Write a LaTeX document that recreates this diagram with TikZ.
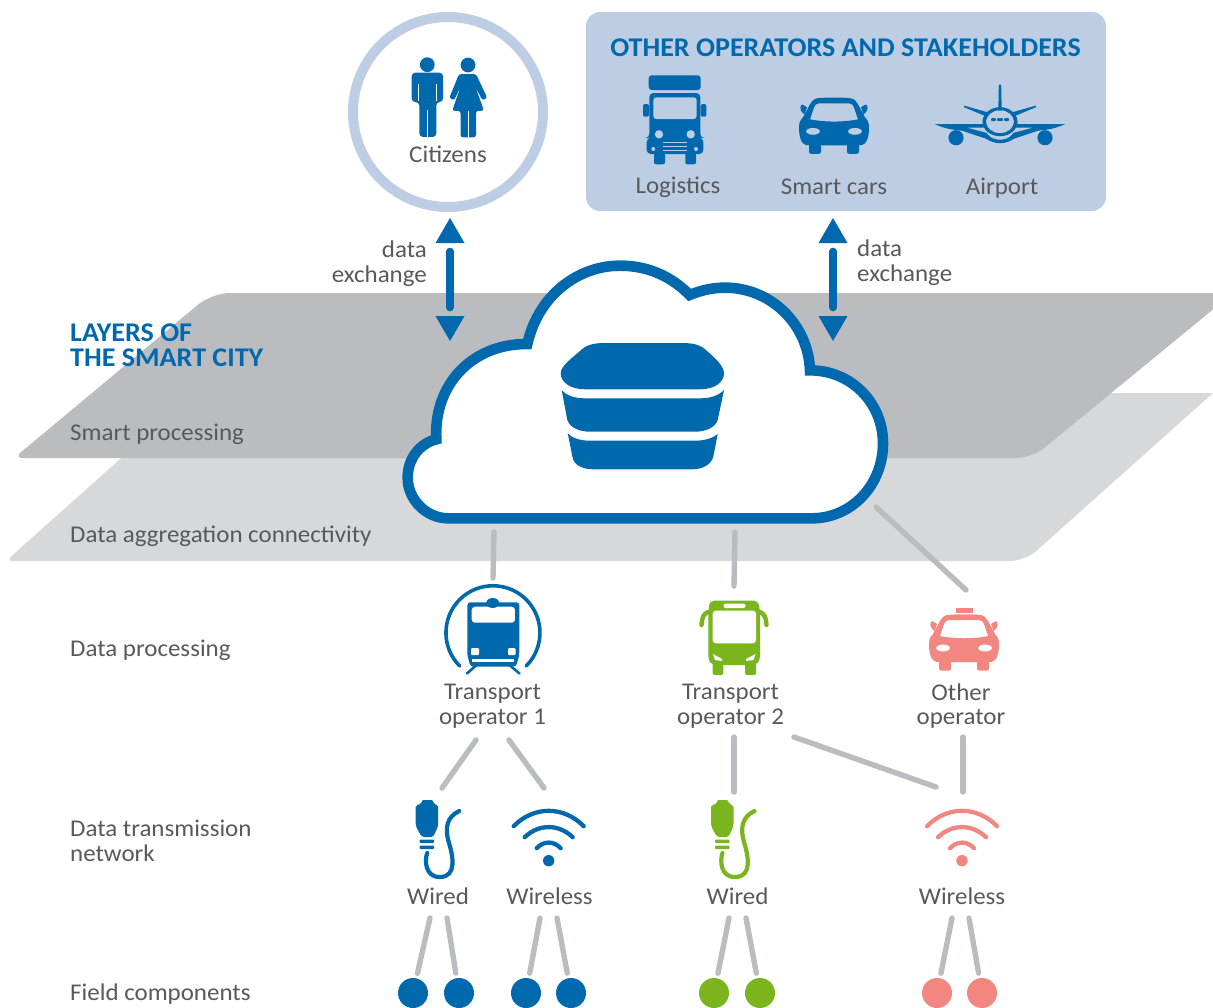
\documentclass[tikz,border=0pt]{standalone}
\usepackage{fontspec}
\setmainfont[FakeStretch=1.04]{Carlito}
\definecolor{iblue}{HTML}{0069AE}
\definecolor{igreen}{HTML}{7AB51D}
\definecolor{isalmon}{HTML}{F28680}
\definecolor{itext}{HTML}{58595B}
\definecolor{ipale}{HTML}{BDCDE4}
\definecolor{ldark}{HTML}{BBBCC0}
\definecolor{llight}{HTML}{D7D8DA}
\tikzset{
  lbl/.style={text=itext,font=\fontsize{24}{24.7}\selectfont,inner sep=0pt,align=center},
  lbls/.style={lbl,anchor=base},
  lbll/.style={lbl,align=left,anchor=base west},
  head/.style={text=iblue,font=\fontsize{27}{25}\selectfont\bfseries,inner sep=0pt},
  link/.style={draw=ldark,line width=5.4pt,line cap=round},
  dotnode/.style={circle,inner sep=0pt,minimum size=30pt},
  exch/.style={draw=iblue,line width=7.6pt,line cap=round,shorten <=33.5pt,shorten >=33.5pt},
  tipfill/.style={fill=iblue},
  pics/caricon/.style={code={
    \fill[#1,even odd rule] (-17,0) .. controls (-8,-1) and (8,-1) .. (17,0)
      .. controls (21,1) and (22,3) .. (24,6) -- (31,19) .. controls (34,22) and (35,25) .. (35,29)
      .. controls (35,36) and (34,42) .. (31,45) .. controls (29,47) and (27,47) .. (25,47) -- (-25,47)
      .. controls (-27,47) and (-29,47) .. (-31,45) .. controls (-34,42) and (-35,36) .. (-35,29)
      .. controls (-35,25) and (-34,22) .. (-31,19) -- (-24,6) .. controls (-22,3) and (-21,1) .. (-17,0) -- cycle
      (-15,5) .. controls (-18,5) and (-19,7) .. (-20,9) -- (-24,21) .. controls (-10,24) and (10,24) .. (24,21) -- (20,9) .. controls (19,7) and (18,5) .. (15,5) -- cycle
      (-21,33) ellipse[x radius=7pt,y radius=3.5pt]
      (21,33) ellipse[x radius=7pt,y radius=3.5pt];
    \fill[#1,rounded corners=2pt] (-25,46) rectangle (-13,55.5) (13,46) rectangle (25,55.5);
    \fill[#1] (-29.5,16) .. controls (-33,14) and (-34.5,10) .. (-33,7) .. controls (-32,5) and (-29,8) .. (-27,9) -- cycle;
    \fill[#1] (29.5,16) .. controls (33,14) and (34.5,10) .. (33,7) .. controls (32,5) and (29,8) .. (27,9) -- cycle;
  }},
  pics/wiredicon/.style={code={
    \fill[#1,rounded corners=2pt] (-5,0) -- (6.5,0) -- (6.5,4) -- (11.5,5) -- (11.5,26) -- (6.5,37) -- (-5,37) -- (-11,26) -- (-11,5) -- (-5,4) -- cycle;
    \fill[#1,rounded corners=1pt] (-7,39.5) rectangle (7.5,43) (-7,45.5) rectangle (7.5,49);
    \draw[#1,line width=4.2pt,line cap=round] (0.5,53) .. controls (-2,60) and (-2,77) .. (13,77) .. controls (31,77) and (26,55) .. (22,42) .. controls (18,28) and (20,17) .. (32.5,11);
  }},
  pics/wifiicon/.style={code={
    \fill[#1] (0,0) circle[radius=5.7pt];
    \draw[#1,line width=4.3pt,line cap=round]
      (-12,-12.5) .. controls (-5,-20) and (5,-20) .. (12,-12.5)
      (-24,-23.5) .. controls (-10,-37) and (10,-37) .. (24,-23.5)
      (-35,-34.5) .. controls (-15,-55) and (15,-55) .. (35,-34.5);
  }}
}
\begin{document}
\begin{tikzpicture}[x=1pt,y=-1pt]
\useasboundingbox (0,0) rectangle (1213,1007);
% layers
\fill[llight] (700,393) -- (1213,393) [rounded corners=15pt] -- (1025,561) [rounded corners=7pt] -- (6,561) [sharp corners] -- (194,393) -- cycle;
\fill[ldark,rounded corners=16pt] (1233,293) -- (1032,458) [rounded corners=9pt] -- (14,458) [rounded corners=18pt] -- (212,293) -- cycle;
% upper frames
\node[circle,draw=ipale,line width=10pt,fill=white,minimum size=190pt,inner sep=0pt] (citcircle) at (448,112) {};
\node[rectangle,rounded corners=14pt,fill=ipale,minimum width=520pt,minimum height=199pt,inner sep=0pt] (others) at (846,111.5) {};
\node[head,anchor=base] (othershead) at (845.5,56) {OTHER OPERATORS AND STAKEHOLDERS};
% man
\fill[iblue] (427.3,64.7) circle[radius=7.4pt] (468,65) circle[radius=7.4pt];
\fill[iblue,rounded corners=3.5pt] (411.7,72.7) -- (443,72.7) -- (443,102) -- (436.3,102) -- (436.3,136.9) -- (419.3,136.9) -- (419.3,102) -- (411.7,102) -- cycle;
\draw[white,line width=0.8pt] (418.7,84) -- (418.7,101) (436.7,84) -- (436.7,101) (427.6,110) -- (427.6,137.5);
% woman
\fill[iblue,rounded corners=2.5pt] (459,74) -- (476,74) -- (487.3,98) -- (482.5,100.5) -- (475.5,87) -- (484,110.8) -- (476,110.8) -- (476,137.3) -- (460.5,137.3) -- (460.5,110.8) -- (452.2,110.8) -- (460.5,87) -- (454,100.5) -- (449.3,98) -- cycle;
\draw[white,line width=0.8pt] (468,111) -- (468,138);
\node[lbls] (citizens) at (448,162.5) {Citizens};
% truck
\fill[iblue,rounded corners=3pt] (648.7,90) -- (648.7,75.3) -- (700.7,75.3) -- (700.7,90) -- cycle;
\fill[iblue,rounded corners=4pt] (649.3,93) -- (700.3,93) -- (700.3,138) -- (703.3,138) -- (703.3,154) -- (646.7,154) -- (646.7,138) -- (649.3,138) -- cycle;
\fill[iblue,rounded corners=2pt] (643,104) rectangle (649,116.7) (700.7,104) rectangle (706.3,116.7) (654,153) rectangle (665,164.3) (685.3,153) rectangle (696,164.3);
\fill[ipale,rounded corners=3pt] (653.3,97.3) rectangle (696.7,119);
\fill[ipale] (659,134.3) circle[radius=4.2pt] (690.7,134.3) circle[radius=4.2pt] (653.3,149) circle[radius=2pt] (696,149) circle[radius=2pt];
\draw[ipale,line width=0.9pt] (663,142.7) -- (687,142.7) (663,146.7) -- (687,146.7) (663,150.7) -- (687,150.7);
\node[lbls] (logistics) at (678,193.5) {Logistics};
\pic at (834,98.3) {caricon=iblue};
\node[lbls] (smartcars) at (834,194.5) {Smart cars};
% airplane
\begin{scope}[shift={(1000,122.7)}]
\fill[iblue] (-1.7,-12) -- (-1.2,-37) .. controls (-0.8,-39) and (0.8,-39) .. (1.2,-37) -- (1.7,-12) -- cycle;
\fill[iblue] (-13,-6) -- (-36,-15.5) -- (-35.5,-17) -- (-11,-10) -- cycle (13,-6) -- (36,-15.5) -- (35.5,-17) -- (11,-10) -- cycle;
\fill[iblue,even odd rule] (0,-1) ellipse[x radius=17.5pt,y radius=14.5pt] (0,-1) ellipse[x radius=14pt,y radius=11.5pt];
\fill[iblue,rounded corners=1pt] (-9,-4.5) rectangle (-4,-1.5) (-3,-4.5) rectangle (3,-1.5) (4,-4.5) rectangle (9,-1.5);
\fill[iblue] (-65,1.5) -- (-17,1.5) -- (-16,5) -- (-33,5) -- (-14,10) -- (-10,14) .. controls (-5,18) and (5,18) .. (10,14) -- (14,10) -- (33,5) -- (16,5) -- (17,1.5) -- (65,1.5) .. controls (55,6) and (48,7) .. (38,8) -- (14,16) .. controls (5,22) and (-5,22) .. (-14,16) -- (-38,8) .. controls (-48,7) and (-55,6) .. (-65,1.5) -- cycle;
\fill[iblue] (-44,15) circle[radius=7.6pt] (45,15) circle[radius=7.6pt];
\end{scope}
\node[lbls] (airport) at (1002,194.5) {Airport};
% data exchange arrows
\coordinate (arrLtop) at (450,218);
\coordinate (arrLbot) at (450,341);
\coordinate (arrRtop) at (833,218);
\coordinate (arrRbot) at (833,341);
\draw[exch] (arrLtop) -- (arrLbot);
\draw[exch] (arrRtop) -- (arrRbot);
\fill[tipfill] (arrLtop) -- ++(14.5,25) -- ++(-29,0) -- cycle;
\fill[tipfill] (arrLbot) -- ++(14.5,-25) -- ++(-29,0) -- cycle;
\fill[tipfill] (arrRtop) -- ++(14.5,25) -- ++(-29,0) -- cycle;
\fill[tipfill] (arrRbot) -- ++(14.5,-25) -- ++(-29,0) -- cycle;
\node[lbl,align=right,anchor=east] (dxl) at (427,263.5) {data\\exchange};
\node[lbl,align=left,anchor=west] (dxr) at (857,262.5) {data\\exchange};
% layer names
\node[head,font=\fontsize{27}{25}\selectfont\bfseries,align=left,anchor=west] (layers) at (70,345) {LAYERS OF\\THE SMART CITY};
\node[lbll] (lsmart) at (70,440.5) {Smart processing};
\node[lbll] (laggr) at (70,542.5) {Data aggregation connectivity};
\node[lbll] (lproc) at (70,656.5) {Data processing};
\node[lbl,align=left,anchor=west] (ltrans) at (70,840.5) {Data transmission\\network};
\node[lbll] (lfield) at (70,1000.5) {Field components};
% cloud
\begin{scope}[shift={(395,255)},x=0.33333pt,y=-0.33333pt]
\filldraw[fill=white,draw=iblue,line width=10.6pt,line join=miter,miter limit=3]
  (160,790) .. controls (95,790) and (38,735) .. (38,668)
  .. controls (38,610) and (75,565) .. (124,553)
  .. controls (115,390) and (230,266) .. (397,267)
  .. controls (430,120) and (550,32) .. (675,32)
  .. controls (760,32) and (830,65) .. (884,120)
  .. controls (920,105) and (955,98) .. (990,98)
  .. controls (1130,98) and (1240,210) .. (1245,346)
  .. controls (1370,346) and (1464,445) .. (1464,565)
  .. controls (1464,690) and (1370,790) .. (1250,790) -- cycle;
\end{scope}
% database
\fill[iblue] (560.7,373.3) .. controls (560.7,366) and (572,358) .. (580,351) .. controls (586,345) and (593,343) .. (605,343) -- (682,343) .. controls (694,343) and (701,345) .. (707,351) .. controls (715,358) and (724,366) .. (724,373.3) .. controls (724,382) and (715,389.3) .. (700,389.3) -- (585,389.3) .. controls (570,389.3) and (560.7,382) .. (560.7,373.3) -- cycle;
\fill[iblue] (561.7,390) .. controls (567,396) and (575,398.3) .. (585,398.3) -- (700,398.3) .. controls (710,398.3) and (718,396) .. (724,390) -- (717.7,420) .. controls (715,428) and (705,431.7) .. (695,431.7) -- (590,431.7) .. controls (580,431.7) and (570,428) .. (567.3,420) -- cycle;
\fill[iblue] (567.7,433.3) .. controls (572,438) and (580,440.7) .. (590,440.7) -- (695,440.7) .. controls (705,440.7) and (713,438) .. (717.7,434) -- (713.3,456.7) .. controls (711,465) and (702,469.3) .. (692,469.3) -- (593,469.3) .. controls (583,469.3) and (574,465) .. (572.7,458) -- cycle;
% train
\draw[iblue,line width=3.6pt,line cap=round] (459.7,666) arc[start angle=225,end angle=-45,radius=47pt];
\fill[iblue] (492.7,603) ellipse[x radius=6.5pt,y radius=5pt];
\fill[iblue,even odd rule,rounded corners=3pt] (467.3,602.3) -- (519.3,602.3) -- (519.3,655) -- (516,666.7) -- (470.5,666.7) -- (467.3,655) -- cycle
 (471.7,606.7) -- (515,606.7) -- (515,622.7) -- (471.7,622.7) -- cycle;
\fill[white,rounded corners=1pt] (471,648) rectangle (479,655) (508,648) rectangle (515.5,655);
\fill[white] (472,658.5) rectangle (514,662);
\draw[iblue,line width=2.6pt,line cap=round] (467,673.5) -- (476,665.5) (519.5,673.5) -- (510,665.5);
\node[lbl] (top1) at (492.5,706.5) {Transport\\operator 1};
% bus
\fill[igreen,rounded corners=4pt] (710,600.7) -- (758,600.7) -- (760,610) -- (760,660) -- (756,665) -- (712,665) -- (708.3,660) -- (708.3,610) -- cycle;
\fill[igreen,rounded corners=2pt] (712.7,662) rectangle (723.3,675) (745,662) rectangle (756,675);
\fill[white,rounded corners=3pt] (712.7,610.7) rectangle (756,643.3);
\fill[white,rounded corners=2pt] (723.5,603.5) rectangle (745.5,608);
\fill[white] (713,654) -- (722,659) -- (722,661) -- (715,660) -- cycle (755.5,654) -- (746,659) -- (746,661) -- (753.5,660) -- cycle;
\draw[igreen,line width=4.4pt,line cap=round,line join=round] (708,612) .. controls (703,614) and (702,618) .. (701.5,625);
\draw[igreen,line width=4.4pt,line cap=round,line join=round] (760,612) .. controls (765,614) and (766,618) .. (766.5,625);
\node[lbl] (top2) at (730.5,706.5) {Transport\\operator 2};
% taxi
\pic at (964,615) {caricon=isalmon};
\fill[isalmon] (955.7,608) rectangle (973,613);
\node[lbl] (top3) at (961,706) {Other\\operator};
% connectivity icons
\pic at (426.7,800) {wiredicon=iblue};
\pic at (548.7,860.7) {wifiicon=iblue};
\pic at (722,800) {wiredicon=igreen};
\pic at (962,860.7) {wifiicon=isalmon};
\node[lbls] (wired1) at (438,904.5) {Wired};
\node[lbls] (wless1) at (549.5,904.5) {Wireless};
\node[lbls] (wired2) at (737.5,904.5) {Wired};
\node[lbls] (wless2) at (962,904.5) {Wireless};
% field dots
\node[dotnode,fill=iblue] (d1) at (413,993) {};
\node[dotnode,fill=iblue] (d2) at (459,993) {};
\node[dotnode,fill=iblue] (d3) at (526,993) {};
\node[dotnode,fill=iblue] (d4) at (571,993) {};
\node[dotnode,fill=igreen] (d5) at (714,993) {};
\node[dotnode,fill=igreen] (d6) at (760,993) {};
\node[dotnode,fill=isalmon] (d7) at (937,993) {};
\node[dotnode,fill=isalmon] (d8) at (982,993) {};
% connectors
\foreach \n/\ax/\ay/\bx/\by in {a/494/532/493/578,b/735/532/734/586,c/876/507/966/590,e/476/740/442/788,f/509/740/544/788,g/734/737/734/792,h/794/737/936/787,i/963/737/963/792}{
  \coordinate (\n1) at (\ax,\ay);
  \coordinate (\n2) at (\bx,\by);
  \draw[link] (\n1) -- (\n2);
}
\foreach \n/\ax/\d in {k/430/d1,l/447/d2,m/540/d3,n/557/d4,o/729/d5,p/746/d6,q/952/d7,r/969/d8}{
  \coordinate (\n1) at (\ax,918);
  \draw[link,shorten >=5pt] (\n1) -- (\d);
}
\end{tikzpicture}
\end{document}
